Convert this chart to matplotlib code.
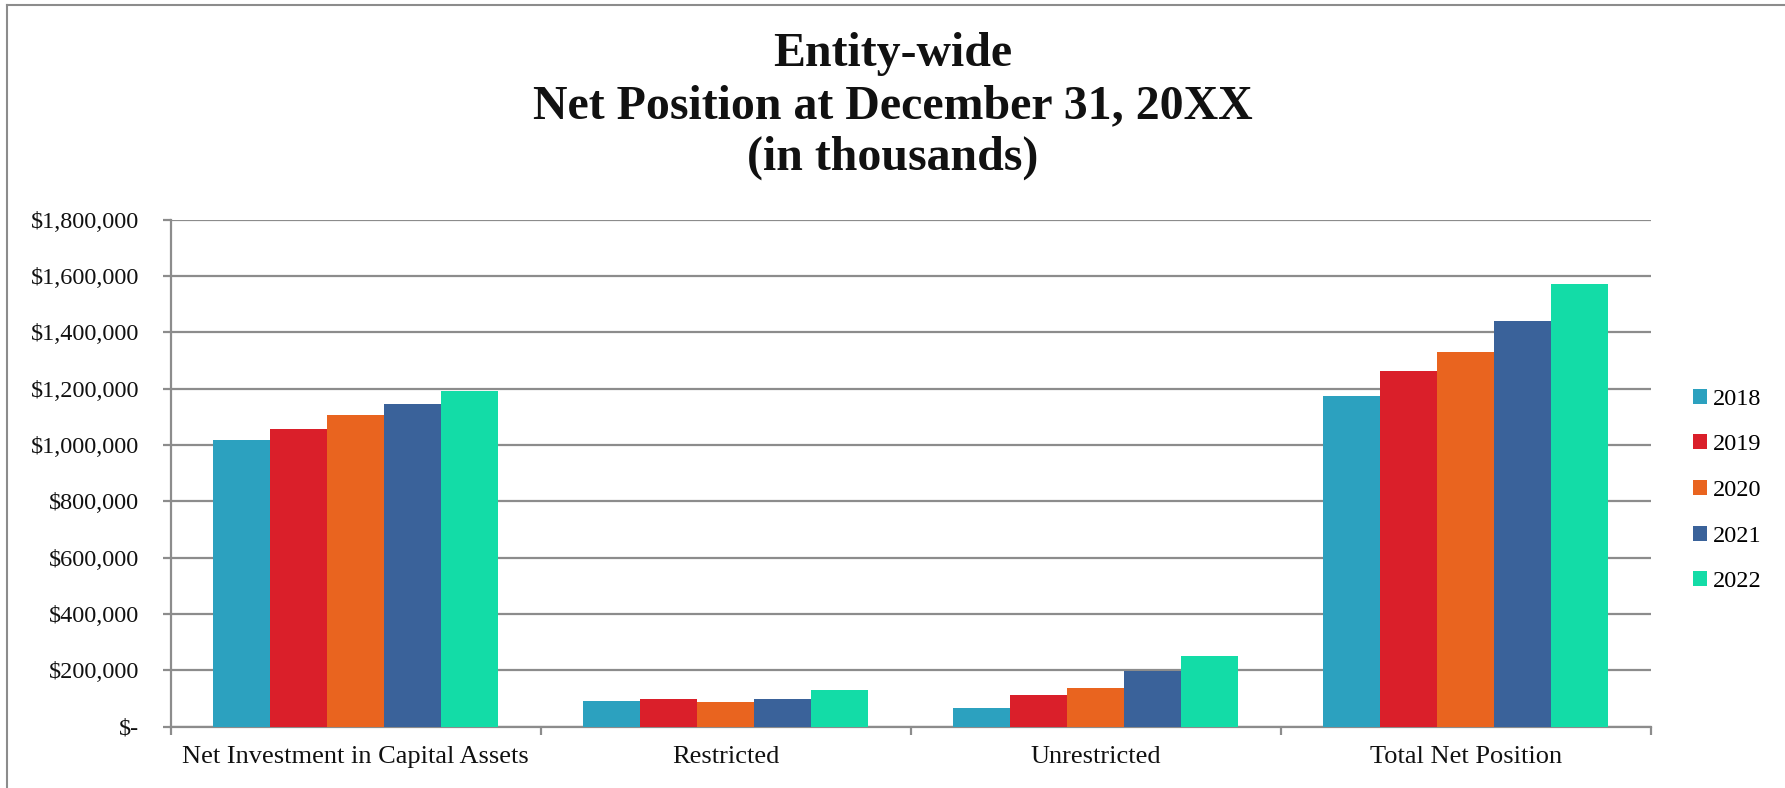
import matplotlib
matplotlib.use("Agg")
import matplotlib.pyplot as plt
from matplotlib.lines import Line2D
from matplotlib.ticker import FixedLocator, FuncFormatter
import numpy as np

# Net position by component, in thousands of dollars
categories = ["Net Investment in Capital Assets", "Restricted", "Unrestricted", "Total Net Position"]
years = ["2018", "2019", "2020", "2021", "2022"]
values_2018 = [1018800, 90000, 65100, 1174000]
values_2019 = [1056900, 97000, 111200, 1263900]
values_2020 = [1106400, 87600, 138500, 1330200]
values_2021 = [1145800, 99400, 197600, 1439000]
values_2022 = [1191500, 129000, 252000, 1571600]
series = [values_2018, values_2019, values_2020, values_2021, values_2022]
colors = ["#2CA1BF", "#DA1F2A", "#E9641F", "#3A629A", "#13DCA7"]
y_ticks = [0, 200000, 400000, 600000, 800000, 1000000, 1200000, 1400000, 1600000, 1800000]

title_lines = "Entity-wide\nNet Position at December 31, 20XX\n(in thousands)"

plt.rcParams["font.family"] = ["Liberation Serif", "DejaVu Serif"]

W, H = 1785, 788
fig = plt.figure(figsize=(W / 100, H / 100), dpi=100)
fig.patch.set_facecolor("white")

left, right, top, bottom = 170.7, 1650.7, 219.7, 726.7
ax = fig.add_axes([left / W, 1 - bottom / H, (right - left) / W, (bottom - top) / H])

grid_color = "#8C8C8C"
n_series = len(series)
bar_w = 1 / (n_series + 1.5)
x = np.arange(len(categories)) + 0.5
for j, (vals, col, yr) in enumerate(zip(series, colors, years)):
    ax.bar(x + (j - (n_series - 1) / 2) * bar_w, vals, width=bar_w, color=col,
           label=yr, zorder=3, linewidth=0)

ax.set_xlim(0, len(categories))
ax.set_ylim(0, 1800000)
ax.yaxis.set_major_locator(FixedLocator(y_ticks))
ax.yaxis.set_major_formatter(FuncFormatter(lambda v, p: "$-" if v == 0 else f"${v:,.0f}"))
ax.grid(axis="y", color=grid_color, linewidth=1.6, zorder=0)
ax.set_axisbelow(True)

ax.set_xticks(x)
ax.set_xticklabels(categories)
ax.set_xticks(np.arange(len(categories) + 1), minor=True)
ax.tick_params(axis="x", which="major", length=0, pad=14, labelsize=19, colors="#111111")
ax.tick_params(axis="x", which="minor", length=6, width=1.6, color=grid_color, direction="out")
ax.tick_params(axis="y", length=5.5, width=1.6, color=grid_color, pad=17, labelsize=17.5,
               labelcolor="#111111", direction="out")

for side in ["top", "right"]:
    ax.spines[side].set_visible(False)
for side in ["left", "bottom"]:
    ax.spines[side].set_color(grid_color)
    ax.spines[side].set_linewidth(1.6)

handles, labels = ax.get_legend_handles_labels()
fig.legend(handles, labels, loc="center left", bbox_to_anchor=(1692.7 / W, 1 - 490.5 / H),
           frameon=False, fontsize=17.5, handlelength=0.58, handleheight=0.58,
           handletextpad=0.25, labelspacing=1.01, borderpad=0, borderaxespad=0)

fig.text(0.5, 1 - 106 / H, title_lines, ha="center", va="center", fontsize=34.5,
         fontweight="bold", linespacing=1.23, color="#111111")

# outer chart frame (top and left edges)
fig.add_artist(Line2D([7 / W, 7 / W], [0, 1 - 5 / H], transform=fig.transFigure,
                      color=grid_color, linewidth=1.5))
fig.add_artist(Line2D([7 / W, 1], [1 - 5 / H, 1 - 5 / H], transform=fig.transFigure,
                      color=grid_color, linewidth=1.5))

fig.savefig("out.png", dpi=100, facecolor="white")
